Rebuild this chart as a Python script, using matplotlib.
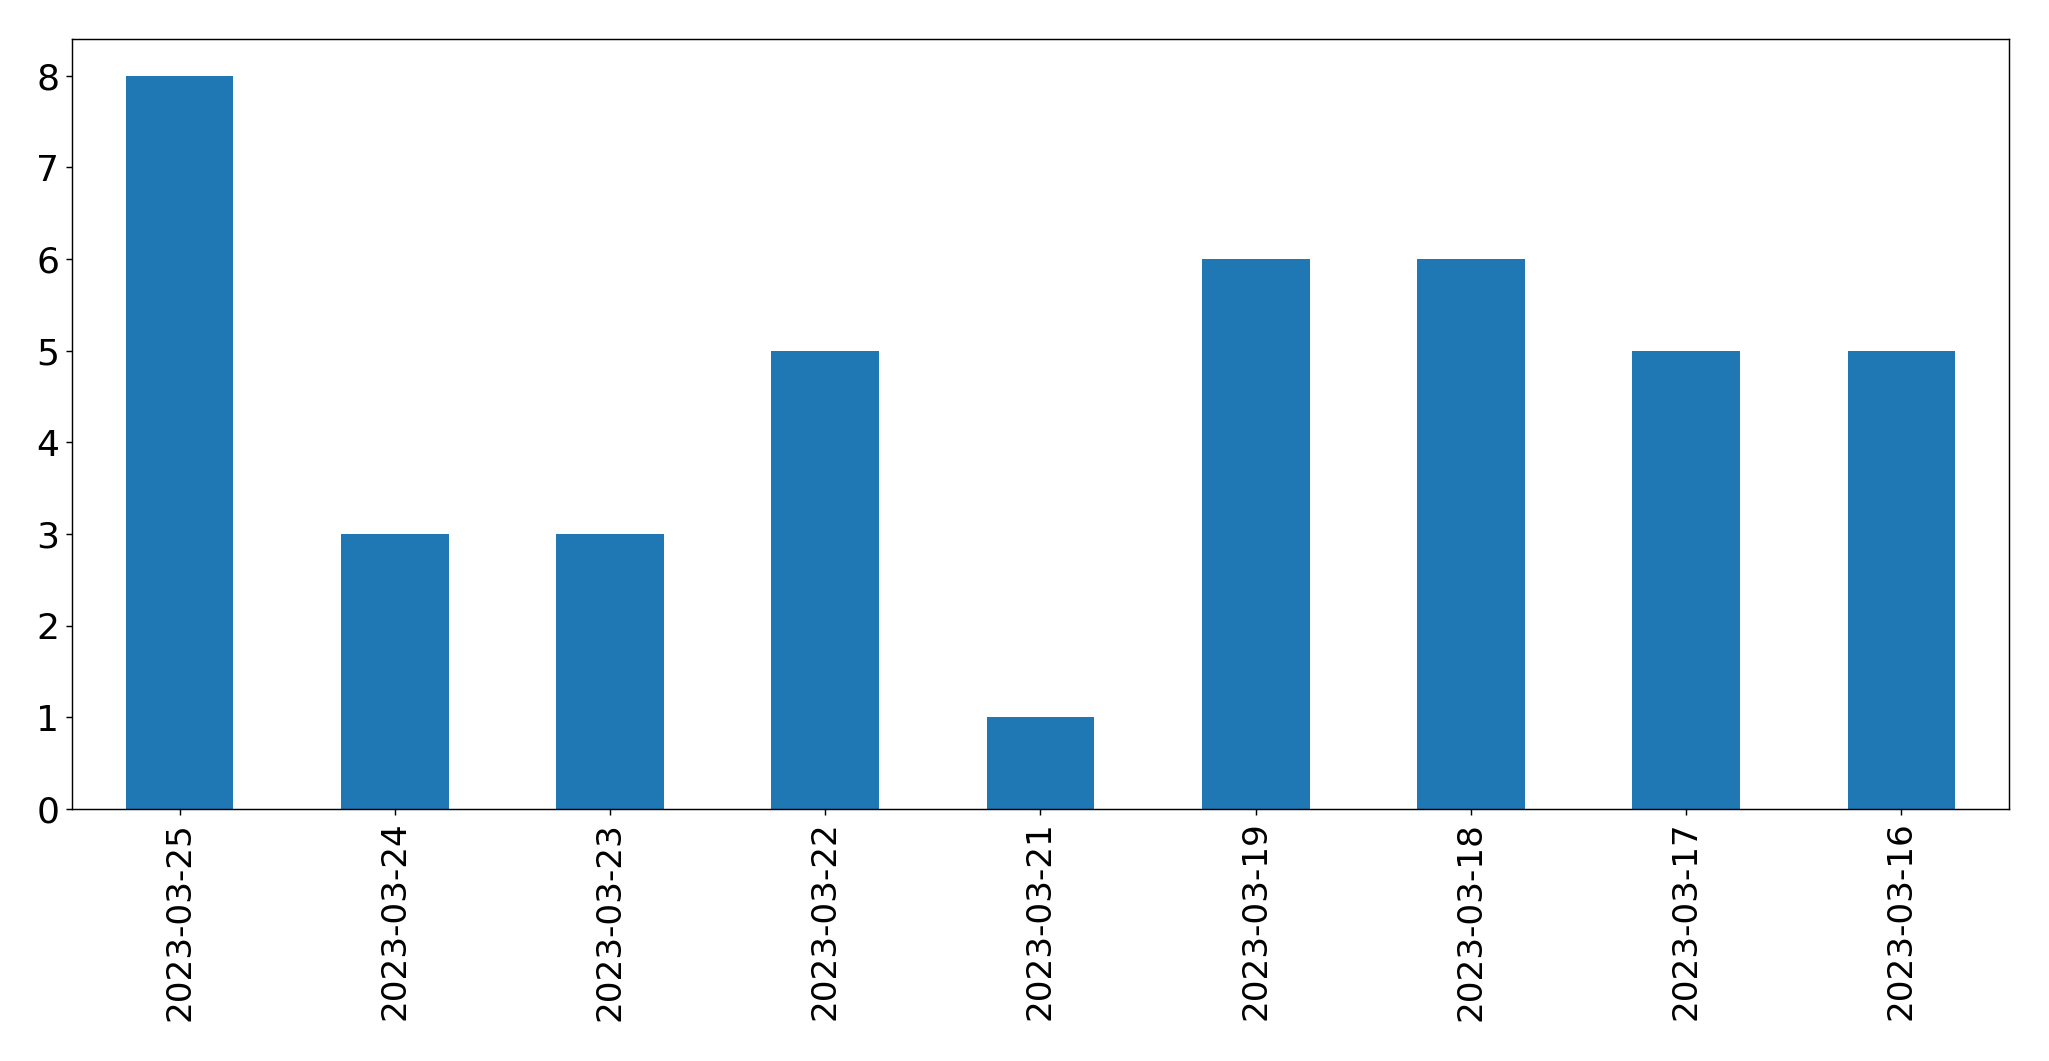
import matplotlib
matplotlib.use("Agg")
import matplotlib.pyplot as plt

# === DATA ===
dates = ["2023-03-25", "2023-03-24", "2023-03-23", "2023-03-22", "2023-03-21",
         "2023-03-19", "2023-03-18", "2023-03-17", "2023-03-16"]
counts = [8, 3, 3, 5, 1, 6, 6, 5, 5]

# === PLOT ===
dpi = 130
fig, ax = plt.subplots(figsize=(2049 / dpi, 1061 / dpi), dpi=dpi)
fig.subplots_adjust(left=0.0351, right=0.9805, top=0.9632, bottom=0.2375)

x = range(len(dates))
ax.bar(x, counts, width=0.5, color="#1f77b4")
ax.set_xlim(-0.5, len(dates) - 0.5)
ax.set_xticks(list(x))
ax.set_xticklabels(dates, rotation=90)
ax.tick_params(axis="y", labelsize=20)
ax.tick_params(axis="x", labelsize=19)

fig.savefig("out.png", dpi=dpi)
plt.close(fig)
